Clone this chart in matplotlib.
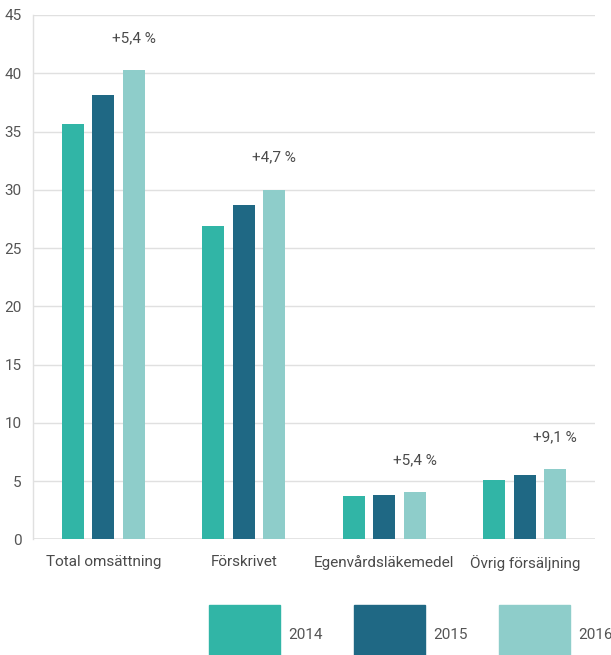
import matplotlib
matplotlib.use("Agg")
import matplotlib.pyplot as plt
from matplotlib.patches import Rectangle
import numpy as np

categories = ["Total omsättning", "Förskrivet", "Egenvårdsläkemedel", "Övrig försäljning"]
years = ["2014", "2015", "2016"]
v2014 = [35.65, 26.9, 3.72, 5.09]
v2015 = [38.1, 28.7, 3.8, 5.52]
v2016 = [40.25, 30.0, 4.06, 6.03]
changes = ["+5,4 %", "+4,7 %", "+5,4 %", "+9,1 %"]
colors = ["#31b5a6", "#1f6884", "#8ecdca"]
yticks = [0, 5, 10, 15, 20, 25, 30, 35, 40, 45]

plt.rcParams['font.family'] = ['Roboto', 'DejaVu Sans']
txt = "#4a4a4a"
fs = 11

W, H = 611, 655
fig = plt.figure(figsize=(W/100, H/100), dpi=100)
ax = fig.add_axes([33/W, (H-539.3)/H, (595-33)/W, (539.3-15)/H])

x = np.arange(len(categories))
bw = 0.157
off = 0.217
series = [v2014, v2015, v2016]
for i, (vals, col) in enumerate(zip(series, colors)):
    ax.bar(x + (i-1)*off, vals, width=bw, color=col, zorder=3)

for xi, v, lab in zip(x, v2016, changes):
    ax.annotate(lab, (xi + off, v), xytext=(0, 32*0.72), textcoords="offset points",
                ha="center", va="center", fontsize=fs, color=txt)

ax.set_xlim(-0.5, 3.5)
ax.set_ylim(0, 45)
ax.set_yticks(yticks)
ax.set_yticklabels([str(t) for t in yticks], fontsize=fs, color="#555555")
ax.set_xticks(x)
ax.set_xticklabels(categories, fontsize=fs, color=txt)
ax.tick_params(axis="y", length=0, pad=8)
ax.tick_params(axis="x", length=0, pad=11)
ax.grid(axis="y", color="#e0e0e0", linewidth=1, zorder=0)
for s in ["top", "right", "bottom"]:
    ax.spines[s].set_visible(False)
ax.spines["left"].set_color("#e0e0e0")
ax.spines["left"].set_linewidth(1)
ax.axhline(0, color="#e0e0e0", linewidth=1.2, zorder=1)

# legend
lx = [209, 354, 499]
for xx, col, yr in zip(lx, colors, years):
    fig.add_artist(Rectangle((xx/W, 0), 71/W, (H-605)/H, transform=fig.transFigure,
                             color=col, clip_on=False))
    fig.text((xx+79)/W, (H-635)/H, yr, fontsize=fs, color="#555555", va="center", ha="left")

fig.savefig("out.png", dpi=100)
